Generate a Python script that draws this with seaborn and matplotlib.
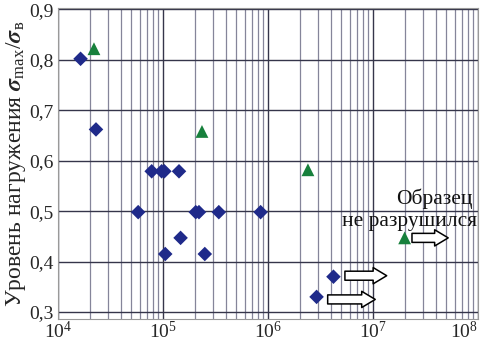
import numpy as np
import pandas as pd
import matplotlib
matplotlib.use("Agg")
import matplotlib.pyplot as plt
import seaborn as sns
from matplotlib.ticker import LogLocator, FixedLocator, FuncFormatter

# Failed specimens (diamonds)
fail_cycles = [1.64e4, 2.3e4, 7.8e4, 9.7e4, 1.03e5, 1.42e5, 5.8e4, 2.05e5, 2.2e5, 3.4e5, 8.5e5,
               1.47e5, 1.05e5, 2.5e5, 4.2e6, 2.9e6]
fail_level = [0.802, 0.662, 0.579, 0.579, 0.579, 0.579, 0.498, 0.498, 0.498, 0.498, 0.498,
              0.447, 0.415, 0.415, 0.370, 0.330]
# Second series (triangles)
tri_cycles = [2.2e4, 2.35e5, 2.4e6, 2.0e7]
tri_level = [0.822, 0.658, 0.582, 0.447]
# Run-out arrows (not failed)
arrow_start = [2.35e7, 5.4e6, 3.7e6]
arrow_end = [5.2e7, 1.35e7, 1.05e7]
arrow_level = [0.447, 0.372, 0.325]

note_text = ["Образец", "не разрушился"]
note_level = [0.525, 0.480]
ytick_vals = [0.3, 0.4, 0.5, 0.6, 0.7, 0.8, 0.9]

sns.set_style("white")
plt.rcParams['font.family'] = ['Liberation Serif', 'DejaVu Serif']
plt.rcParams['mathtext.fontset'] = 'stix'

df_fail = pd.DataFrame({"N": fail_cycles, "s": fail_level})
df_tri = pd.DataFrame({"N": tri_cycles, "s": tri_level})

fig = plt.figure(figsize=(4.81, 3.42), dpi=100)
ax = fig.add_axes([0.1206, 0.067, 0.8732, 0.91])
ax.set_xscale("log")
ax.set_xlim(1e4, 1e8)
ax.set_ylim(0.286, 0.903)

sns.scatterplot(data=df_fail, x="N", y="s", marker="D", color="#1f2a8a",
                s=55, edgecolor="none", legend=False, ax=ax, zorder=5)
sns.scatterplot(data=df_tri, x="N", y="s", marker="^", color="#17803c",
                s=85, edgecolor="none", legend=False, ax=ax, zorder=5)

ax.xaxis.set_major_locator(LogLocator(base=10, numticks=10))
ax.xaxis.set_minor_locator(LogLocator(base=10, subs=np.arange(2, 10), numticks=20))
ax.yaxis.set_major_locator(FixedLocator(ytick_vals))
ax.yaxis.set_major_formatter(FuncFormatter(lambda v, p: f"{v:.1f}".replace(".", ",")))

ax.grid(True, which="major", axis="both", color="#35354a", linewidth=1.0)
ax.grid(True, which="minor", axis="x", color="#85859a", linewidth=0.9)
ax.set_axisbelow(True)
for sp in ax.spines.values():
    sp.set_color("#999999")
    sp.set_linewidth(0.8)

ax.tick_params(axis="both", which="both", length=0, labelsize=14)
ax.tick_params(axis="x", pad=1)
ax.tick_params(axis="y", pad=3)
fig.canvas.draw()
for lab in ax.get_xticklabels():
    if lab.get_position()[0] >= 1e8 * 0.99:
        lab.set_ha("right")

ax.set_xlabel("")
ax.set_ylabel("Уровень нагружения $\\boldsymbol{\\sigma}_{\\mathregular{max}}$/$\\boldsymbol{\\sigma}_{\\mathregular{в}}$",
              fontsize=17, labelpad=1)

for x0, x1, y in zip(arrow_start, arrow_end, arrow_level):
    ax.annotate("", xy=(x1, y), xytext=(x0, y),
                arrowprops=dict(arrowstyle="simple,head_length=0.75,head_width=0.9,tail_width=0.5",
                                fc="white", ec="black", lw=1.1, shrinkA=0, shrinkB=0,
                                mutation_scale=13),
                zorder=6)

trans = ax.get_yaxis_transform()
ax.text(0.987, note_level[0], note_text[0], transform=trans, ha="right", va="center",
        fontsize=15.5, color="#111111")
ax.text(0.997, note_level[1], note_text[1], transform=trans, ha="right", va="center",
        fontsize=15.5, color="#111111")

fig.savefig("out.png", dpi=100)
